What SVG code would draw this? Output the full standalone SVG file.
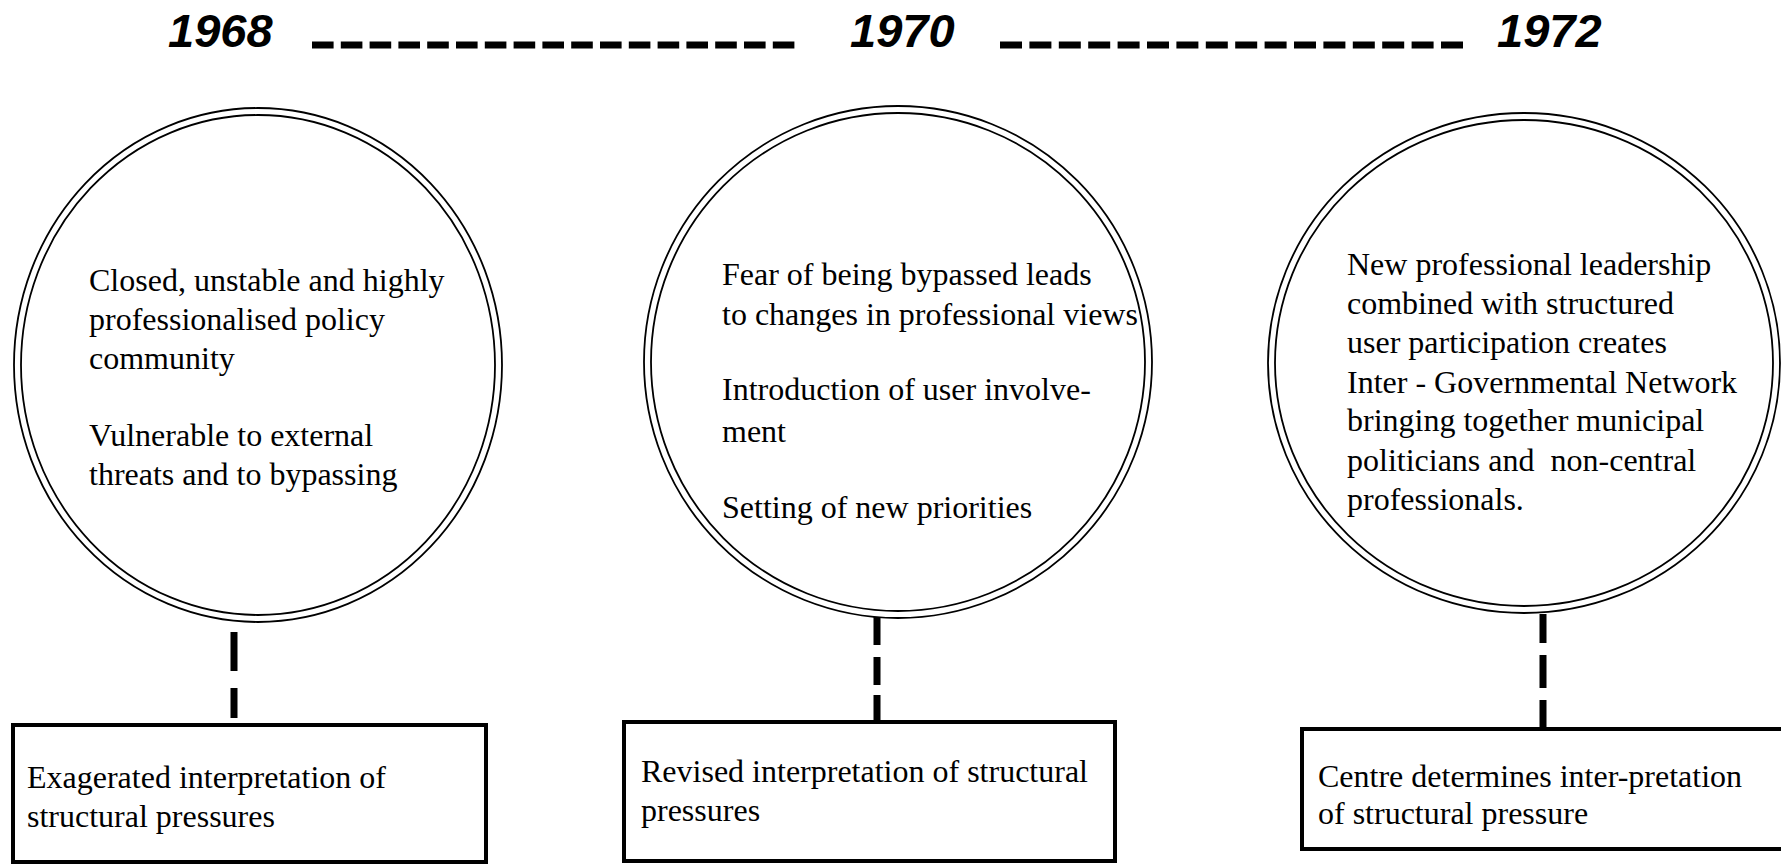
<svg xmlns="http://www.w3.org/2000/svg" width="1781" height="866" viewBox="0 0 1781 866">
<style>
.year{font-family:"Liberation Sans",Arial,sans-serif;font-weight:bold;font-style:italic;font-size:47px;fill:#000}
.t{font-family:"Liberation Serif","Times New Roman",serif;font-size:32px;fill:#000;white-space:pre}
.ring{fill:none;stroke:#000;stroke-width:1.8}
.box{fill:#fff;stroke:#000;stroke-width:4}
.dash{stroke:#000;stroke-width:7;fill:none}
.tl{stroke:#000;stroke-width:7;fill:none}
</style>
<rect width="1781" height="866" fill="#fff"/>
<g id="timeline">
<text class="year" x="168" y="47">1968</text>
<text class="year" x="850" y="47">1970</text>
<text class="year" x="1497" y="47">1972</text>
<line class="tl" x1="312" y1="45" x2="795" y2="45" stroke-dasharray="21.6 7.2"/>
<line class="tl" x1="1000" y1="45" x2="1463" y2="45" stroke-dasharray="22 7.4"/>
</g>
<g id="connectors">
<path class="dash" d="M234 632V671M234 688V718"/>
<path class="dash" d="M877 617V645M877 657V685M877 695V723"/>
<path class="dash" d="M1543 614V643M1543 655V688M1543 700V727"/>
</g>
<g id="circle1968">
<ellipse class="ring" cx="258" cy="365" rx="244" ry="257"/>
<ellipse class="ring" cx="258" cy="365" rx="237" ry="250"/>
<text class="t" x="89" y="291">Closed, unstable and highly</text>
<text class="t" x="89" y="330">professionalised policy</text>
<text class="t" x="89" y="369">community</text>
<text class="t" x="89" y="446">Vulnerable to external</text>
<text class="t" x="89" y="485">threats and to bypassing</text>
</g>
<g id="circle1970">
<ellipse class="ring" cx="898" cy="362" rx="254" ry="256"/>
<ellipse class="ring" cx="898" cy="362" rx="247" ry="249"/>
<text class="t" x="722" y="285">Fear of being bypassed leads</text>
<text class="t" x="722" y="325">to changes in professional views</text>
<text class="t" x="722" y="400">Introduction of user involve-</text>
<text class="t" x="722" y="442">ment</text>
<text class="t" x="722" y="518">Setting of new priorities</text>
</g>
<g id="circle1972">
<ellipse class="ring" cx="1524" cy="363" rx="256" ry="250"/>
<ellipse class="ring" cx="1524" cy="363" rx="249" ry="243"/>
<text class="t" x="1347" y="275">New professional leadership</text>
<text class="t" x="1347" y="314">combined with structured</text>
<text class="t" x="1347" y="353">user participation creates</text>
<text class="t" x="1347" y="393">Inter - Governmental Network</text>
<text class="t" x="1347" y="431">bringing together municipal</text>
<text class="t" x="1347" y="471">politicians and  non-central</text>
<text class="t" x="1347" y="510">professionals.</text>
</g>
<g id="box1968">
<rect class="box" x="13" y="725" width="473" height="137"/>
<text class="t" x="27" y="788">Exagerated interpretation of</text>
<text class="t" x="27" y="827">structural pressures</text>
</g>
<g id="box1970">
<rect class="box" x="624" y="722" width="491" height="139"/>
<text class="t" x="641" y="782">Revised interpretation of structural</text>
<text class="t" x="641" y="821">pressures</text>
</g>
<g id="box1972">
<rect class="box" x="1302" y="729" width="500" height="120"/>
<text class="t" x="1318" y="787">Centre determines inter-pretation</text>
<text class="t" x="1318" y="824">of structural pressure</text>
</g>
</svg>
